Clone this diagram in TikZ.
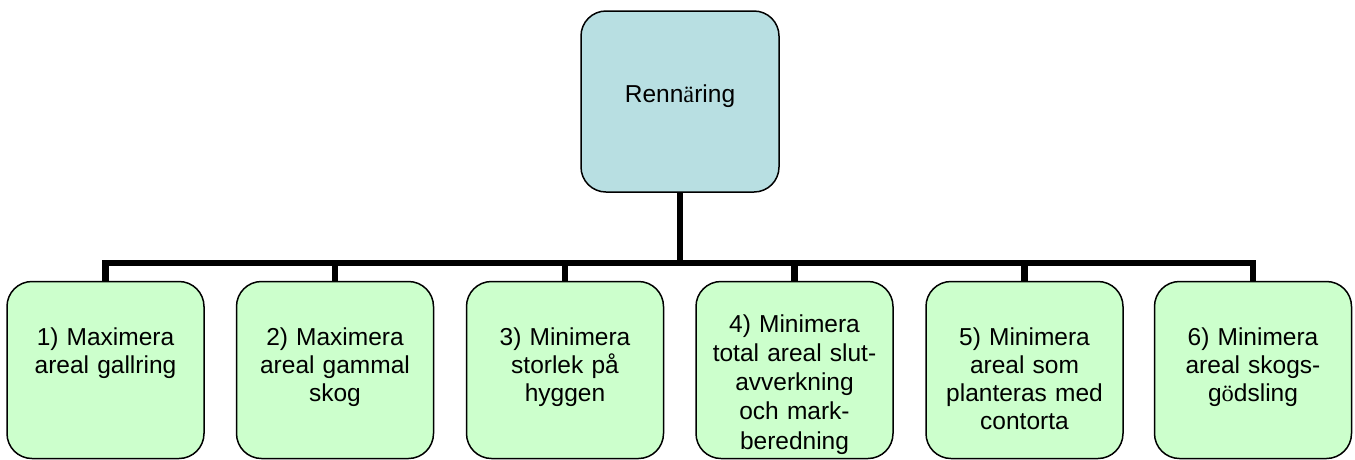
\documentclass[tikz,border=0pt]{standalone}
\usepackage{fontspec}
\setmainfont{Liberation Sans}
\newfontfamily\serifglyph{Liberation Serif}
\definecolor{topfill}{HTML}{B8DFE2}
\definecolor{leaffill}{HTML}{CCFFCC}
\begin{document}
\begin{tikzpicture}[x=1pt,y=-1pt,
  box/.style={draw=black, line width=1.5pt, rounded corners=25pt, inner sep=0pt},
  topbox/.style={box, fill=topfill, minimum width=198pt, minimum height=181pt},
  leaf/.style={box, fill=leaffill, minimum width=197pt, minimum height=177pt},
  lbl/.style={text width=197pt, align=center, inner sep=0pt, anchor=base,
    font=\fontsize{24.5}{28.3}\selectfont},
  conn/.style={line width=6.5pt}]
\useasboundingbox (0,0) rectangle (1355,459);

\node[topbox] (top) at (680,101.5) {};
\node[leaf] (b1) at (105.5,370) {};
\node[leaf] (b2) at (335,370) {};
\node[leaf] (b3) at (565,370) {};
\node[leaf] (b4) at (794.5,370) {};
\node[leaf] (b5) at (1024.5,370) {};
\node[leaf] (b6) at (1253,370) {};

\coordinate (bar) at (680,263);
\foreach \i in {1,...,6}{
  \draw[conn] (top.south) -- (top.south |- bar) -| (b\i.north);
}

\node[lbl] (t0) at (680,102.5) {Renn{\serifglyph ä}ring};
\node[lbl] (t1) at (105.5,345) {1) Maximera\\areal gallring};
\node[lbl] (t2) at (335,345) {2) Maximera\\areal gammal\\skog};
\node[lbl] (t3) at (565,345) {3) Minimera\\storlek på\\hyggen};
\node[lbl, font=\fontsize{24.5}{29.3}\selectfont] (t4) at (794.5,332) {4) Minimera\\total areal slut-\\avverkning\\och mark-\\beredning};
\node[lbl] (t5) at (1024.5,345) {5) Minimera\\areal som\\planteras med\\contorta};
\node[lbl] (t6) at (1253,345) {6) Minimera\\areal skogs-\\g{\serifglyph ö}dsling};
\end{tikzpicture}
\end{document}
